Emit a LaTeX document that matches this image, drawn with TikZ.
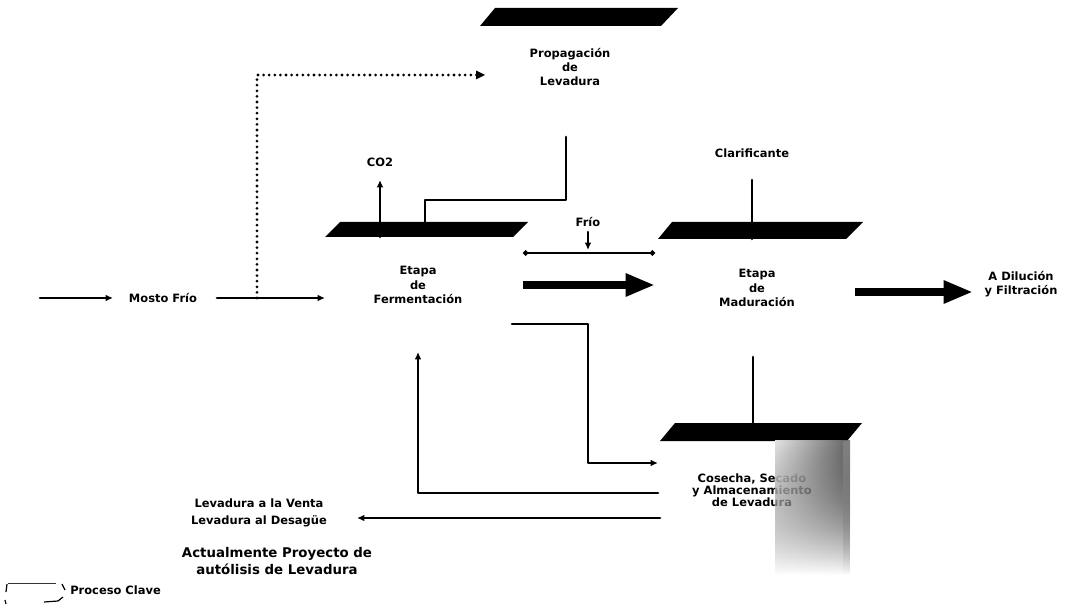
\documentclass[tikz,border=0pt]{standalone}
\usepackage{fontspec}
\setmainfont{DejaVu Sans}
\usetikzlibrary{arrows.meta,fadings}
\begin{document}
\begin{tikzpicture}[x=0.75pt,y=-0.75pt,
  lbl/.style={font=\fontsize{8.6}{10.6}\selectfont\bfseries, align=center, inner sep=0pt},
  biglbl/.style={font=\fontsize{10}{13}\selectfont\bfseries, align=center, inner sep=0pt},
  bar/.style={fill=black},
  flow/.style={line width=2pt, line cap=round, line join=round},
  tip/.style={-{Latex[length=5.5pt,width=5pt]}},
  fat/.style={line width=6.5pt, -{Triangle[length=22pt,width=16pt]}},
  dots/.style={line width=2.3pt, line cap=round, dash pattern=on 0pt off 4.2pt}]
\useasboundingbox (0,0) rectangle (1070,616);

% ---- process headers (slanted black bars) ----
\fill[bar] (480,26) -- (495,8) -- (678,8) -- (661,26) -- cycle;
\fill[bar] (325,237) -- (340,222) -- (528,222) -- (513,237) -- cycle;
\fill[bar] (658,239) -- (672,222) -- (863,222) -- (846,239) -- cycle;
\fill[bar] (660,441) -- (675,423) -- (862,423) -- (847,441) -- cycle;

% ---- process texts ----
\node[lbl] (prop) at (570,67) {Propagación\\de\\Levadura};
\node[lbl] (ferm) at (418,285) {Etapa\\de\\Fermentación};
\node[lbl] (mad)  at (757,288) {Etapa\\de\\Maduración};
\node[lbl, font=\fontsize{8.6}{9.2}\selectfont\bfseries] (cos) at (752,490)
  {Cosecha, Secado\\y Almacenamiento\\de Levadura};

% ---- other labels ----
\node[lbl] (mosto) at (163,298) {Mosto Frío};
\node[lbl] (co2)   at (380,162) {CO2};
\node[lbl] (frio)  at (588,222) {Frío};
\node[lbl] (clar)  at (752,153) {Clarificante};
\node[lbl] (dil)   at (1021,284) {A Dilución\\y Filtración};
\node[lbl, font=\fontsize{8.6}{12.5}\selectfont\bfseries] (venta) at (259,513)
  {Levadura a la Venta\\Levadura al Desagüe};
\node[biglbl] (auto) at (277,561) {Actualmente Proyecto de\\autólisis de Levadura};
\node[lbl, anchor=west] (clave) at (70,590) {Proceso Clave};

% ---- connection points ----
\coordinate (in0)     at (40,298);
\coordinate (mostoL)  at (113,298);
\coordinate (mostoR)  at (217,298);
\coordinate (fermIn)  at (325,298);
\coordinate (split)   at (257,298);
\coordinate (propIn)  at (478,75);
\coordinate (propOut) at (566,137);
\coordinate (fermTop) at (425,232);
\coordinate (co2Out)  at (380,237);
\coordinate (co2In)   at (380,180);
\coordinate (frioOut) at (588,232);
\coordinate (frioIn)  at (588,250);
\coordinate (rangeL)  at (523,253);
\coordinate (rangeR)  at (655,253);
\coordinate (fmL)     at (523,285);
\coordinate (fmR)     at (655,285);
\coordinate (clarOut) at (752,180);
\coordinate (madTop)  at (752,239);
\coordinate (mdL)     at (855,292);
\coordinate (mdR)     at (973,292);
\coordinate (fermOut) at (512,324);
\coordinate (cosIn)   at (658,463);
\coordinate (cosRet)  at (658,493);
\coordinate (fermRet) at (418,352);
\coordinate (cosOut)  at (660,518);
\coordinate (ventaIn) at (357,518);
\coordinate (madOut)  at (753,357);
\coordinate (cosTop)  at (753,441);

% ---- connectors ----
\draw[flow,tip] (in0) -- (mostoL);
\draw[flow,tip] (mostoR) -- (fermIn);
\draw[dots] (split) |- (propIn);
\fill (propIn) ++(-2,0) -- ++(0,-4.5) -- ++(9,4.5) -- ++(-9,4.5) -- cycle;
\draw[flow,tip] (propOut) -- ++(0,63) -| (fermTop);
\draw[flow,tip] (co2Out) -- (co2In);
\draw[flow,tip] (frioOut) -- (frioIn);
\draw[flow,{Circle[length=4pt]}-{Circle[length=4pt]}, line width=1.3pt] (rangeL) -- (rangeR);
\draw[fat] (fmL) -- (fmR);
\draw[flow] (clarOut) -- (madTop);
\draw[fat] (mdL) -- (mdR);
\draw[flow,tip] (fermOut) -| ++(76,139) -- (cosIn);
\draw[flow,tip] (cosRet) -| (fermRet);
\draw[flow,tip] (cosOut) -- (ventaIn);
\draw[flow,tip] (madOut) -- (cosTop);

% ---- side shadow of the harvest box ----
\fill[left color=white, right color=black!58, path fading=south, opacity=0.88]
  (775,441) rectangle (850,575);
\fill[black!50, path fading=south] (843,441) rectangle (850,575);

% ---- key sample box ----
\draw[line width=0.7pt, black!80] (8,583) -- (56,583);
\draw[line width=0.9pt] (7,584) -- (6,592);
\draw[line width=0.9pt] (62,584) -- (65,590);
\draw[line width=0.9pt] (5,600) -- (6,604);
\draw[line width=0.9pt] (44,602) -- (58,601) -- (63,597);
\end{tikzpicture}
\end{document}
